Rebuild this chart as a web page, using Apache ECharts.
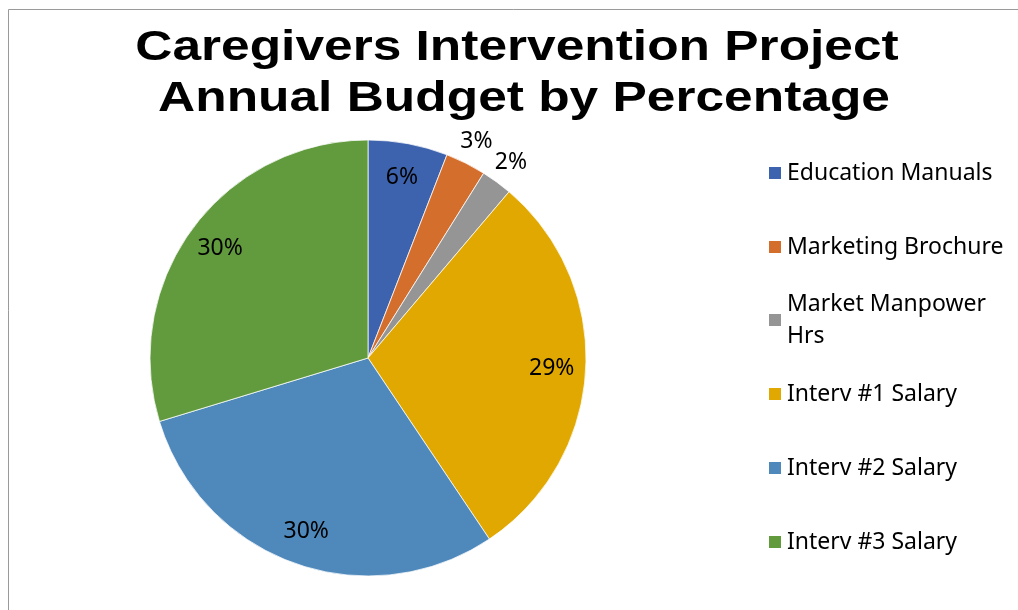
<!DOCTYPE html>
<html><head><meta charset="utf-8">
<script src="https://cdn.jsdelivr.net/npm/echarts@6/dist/echarts.min.js"></script>
<style>html,body{margin:0;padding:0;background:#fff}#chart{width:1018px;height:610px}</style>
</head><body>
<div id="chart"></div>
<script>
const titleLines = ['Caregivers Intervention Project', 'Annual Budget by Percentage'];
const categories = ['Education Manuals', 'Marketing Brochure', 'Market Manpower Hrs', 'Interv #1 Salary', 'Interv #2 Salary', 'Interv #3 Salary'];
const shares = [5.9, 3.0, 2.3, 29.4, 29.7, 29.7];
const palette = ['#3E63AE', '#D46E2C', '#959595', '#E0A800', '#4F89BC', '#629A3E'];

const FONT = '"Noto Sans", sans-serif';
const CX = 368, CY = 358, R = 218;
const SMALL = 5; // slices below this share get their label outside the pie

const chart = echarts.init(document.getElementById('chart'), null, {renderer: 'canvas'});

const baseData = categories.map((n, i) => ({name: n, value: shares[i]}));
const pct = p => Math.round(p.percent) + '%';

function labelSeries(inner, outer, pickInside) {
  return {
    type: 'pie', silent: true, animation: false,
    center: [CX, CY], radius: [inner, outer],
    startAngle: 90, clockwise: true, avoidLabelOverlap: false,
    itemStyle: {color: 'rgba(0,0,0,0)', borderWidth: 0},
    labelLine: {show: false},
    data: categories.map((n, i) => ({
      name: n, value: shares[i],
      label: {show: pickInside ? shares[i] >= SMALL : shares[i] < SMALL}
    })),
    label: {position: 'inside', formatter: pct, color: '#000', fontFamily: FONT, fontSize: 23, rotate: 0}
  };
}

const legendCommon = {
  orient: 'vertical', left: 767, padding: 0, icon: 'rect',
  itemWidth: 14, itemHeight: 14, itemGap: 42, selectedMode: false,
  textStyle: {fontFamily: FONT, fontSize: 23, color: '#000', lineHeight: 32}
};

const titleFont = 'bold 42px "Liberation Sans", Arial, sans-serif';

chart.setOption({
  animation: false,
  color: palette,
  graphic: [
    {type: 'rect', shape: {x: 8.5, y: 9.5, width: 1200, height: 800}, style: {fill: 'none', stroke: '#9a9a9a', lineWidth: 1}, silent: true, z: -1},
    {type: 'text', x: 517, y: 48, scaleX: 1.225, style: {text: titleLines[0], font: titleFont, fill: '#000', align: 'center', verticalAlign: 'middle', textAlign: 'center', textVerticalAlign: 'middle'}},
    {type: 'text', x: 524, y: 99, scaleX: 1.225, style: {text: titleLines[1], font: titleFont, fill: '#000', align: 'center', verticalAlign: 'middle', textAlign: 'center', textVerticalAlign: 'middle'}}
  ],
  legend: [
    Object.assign({}, legendCommon, {top: 157, data: categories.slice(0, 2)}),
    Object.assign({}, legendCommon, {top: 272, data: categories.slice(2, 3),
      textStyle: Object.assign({}, legendCommon.textStyle, {width: 225, overflow: 'break', padding: [32, 0, 0, 0]})}),
    Object.assign({}, legendCommon, {top: 378, data: categories.slice(3)})
  ],
  series: [
    {
      type: 'pie', animation: false,
      center: [CX, CY], radius: [0, R],
      startAngle: 90, clockwise: true, avoidLabelOverlap: false,
      itemStyle: {borderColor: '#ffffff', borderWidth: 0.75},
      label: {show: false}, labelLine: {show: false},
      emphasis: {disabled: true},
      data: baseData
    },
    labelSeries(144, R, true),
    labelSeries(R, 260, false)
  ]
});
</script>
</body></html>
